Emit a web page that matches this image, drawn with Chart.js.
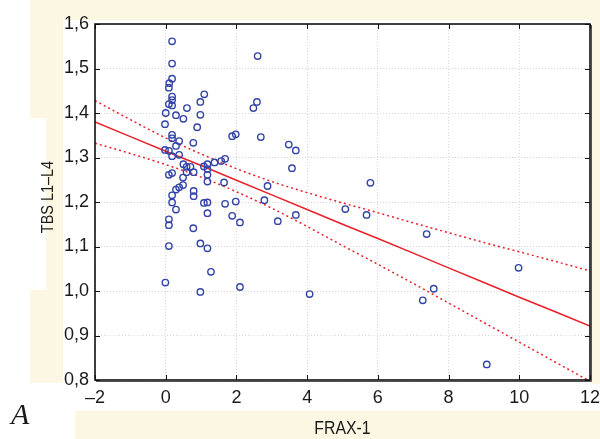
<!DOCTYPE html>
<html>
<head>
<meta charset="utf-8">
<script src="https://cdn.jsdelivr.net/npm/chart.js@4.4.1/dist/chart.umd.min.js"></script>
<style>
  html, body { margin: 0; padding: 0; background: #ffffff; }
  #wrap { width: 600px; height: 439px; position: relative; }
</style>
</head>
<body>
<div id="wrap"><canvas id="scatterChart" width="600" height="439"></canvas></div>
<script>
// FRAX-1 vs TBS L1-L4
const fraxValues = [
  0.18, 0.18, 0.18, 0.10, 0.09, 0.18, 0.18, 0.09, 0.18, 1.09,
  0.98, 0.60, 0.00, 0.29, 0.50, 0.98, -0.02, 0.89, 0.18, 0.18,
  0.38, 0.78, 0.29, -0.02, 0.09, 0.18, 0.38, 0.50, 0.59, 0.70,
  1.08, 1.18, 1.38, 1.57, 1.68, 1.18, 0.59, 1.18, 0.79, 0.18,
  0.09, 0.49, 1.18, 1.65, 0.49, 0.38, 0.29, 0.79, 0.79, 0.18,
  0.18, 1.08, 1.18, 1.68, 0.29, 1.18, 0.09, 0.09, 0.78, 0.09,
  0.98, 1.18, 1.28, -0.01, 0.98, 2.48, 2.58, 1.88, 1.98, 2.69,
  2.88, 1.98, 2.79, 1.88, 2.10, 3.17, 2.10, 2.60, 3.48, 3.68,
  3.57, 5.79, 5.08, 5.68, 3.68, 4.07, 7.38, 9.98, 7.58, 7.27,
  9.08
];
const tbsValues = [
  1.561, 1.511, 1.477, 1.467, 1.457, 1.437, 1.429, 1.420, 1.417, 1.442,
  1.425, 1.411, 1.400, 1.395, 1.387, 1.396, 1.375, 1.368, 1.351, 1.343,
  1.337, 1.333, 1.326, 1.317, 1.315, 1.303, 1.306, 1.285, 1.279, 1.279,
  1.280, 1.285, 1.289, 1.292, 1.297, 1.274, 1.267, 1.261, 1.267, 1.265,
  1.261, 1.255, 1.246, 1.244, 1.238, 1.233, 1.228, 1.225, 1.213, 1.215,
  1.199, 1.198, 1.199, 1.196, 1.183, 1.175, 1.161, 1.148, 1.141, 1.101,
  1.107, 1.096, 1.043, 1.019, 0.998, 1.411, 1.425, 1.348, 1.352, 1.346,
  1.236, 1.201, 1.204, 1.169, 1.154, 1.157, 1.009, 1.528, 1.329, 1.316,
  1.276, 1.243, 1.184, 1.171, 1.171, 0.993, 1.128, 1.052, 1.005, 0.979,
  0.835
];

// regression line and 95% band, read at whole x values
const fitX = [-2, -1, 0, 1, 2, 3, 4, 5, 6, 7, 8, 9, 10, 11, 12];
const fitY = [1.380, 1.347, 1.314, 1.282, 1.249, 1.216, 1.183, 1.150, 1.118, 1.085, 1.052, 1.019, 0.986, 0.954, 0.921];
const upperY = [1.428, 1.385, 1.344, 1.308, 1.275, 1.246, 1.221, 1.198, 1.176, 1.153, 1.131, 1.109, 1.088, 1.067, 1.045];
const lowerY = [1.332, 1.309, 1.284, 1.256, 1.223, 1.186, 1.145, 1.102, 1.060, 1.017, 0.973, 0.929, 0.885, 0.841, 0.797];

const xTicks = [-2, 0, 2, 4, 6, 8, 10, 12];
const yTicks = [0.8, 0.9, 1.0, 1.1, 1.2, 1.3, 1.4, 1.5, 1.6];

const FONT = "'Liberation Sans Narrow', 'Liberation Sans', Arial, sans-serif";
const CREAM = "#fcf7e3";

const pts = (xs, ys) => xs.map((x, i) => ({ x: x, y: ys[i] }));

// cream scan background, frame, inward ticks and titles
const decor = {
  id: "decor",
  beforeDraw(chart) {
    const c = chart.ctx;
    const a = chart.chartArea;
    c.save();
    c.fillStyle = "#ffffff";
    c.fillRect(0, 0, chart.width, chart.height);
    c.fillStyle = CREAM;
    c.fillRect(30, 0, chart.width - 30, a.top - 4);
    c.fillRect(a.right + 2, 0, chart.width - a.right - 2, a.bottom + 4);
    c.fillRect(30, 10, 33, 108);
    c.fillRect(46, 118, 17, 172);
    c.fillRect(30, 290, 33, 93);
    c.fillRect(75, 411, 525, 28);
    c.fillStyle = "#ffffff";
    c.fillRect(a.left, a.top, a.right - a.left, a.bottom - a.top);
    c.restore();
  },
  afterDraw(chart) {
    const c = chart.ctx;
    const a = chart.chartArea;
    const xs = chart.scales.x;
    const ys = chart.scales.y;
    c.save();
    c.strokeStyle = "#111111";
    c.lineWidth = 1;
    c.beginPath();
    xTicks.forEach((v) => {
      const px = Math.round(xs.getPixelForValue(v)) + 0.5;
      c.moveTo(px, a.bottom); c.lineTo(px, a.bottom - 5);
      c.moveTo(px, a.top); c.lineTo(px, a.top + 5);
    });
    yTicks.forEach((v) => {
      const py = Math.round(ys.getPixelForValue(v)) + 0.5;
      c.moveTo(a.left, py); c.lineTo(a.left + 5, py);
      c.moveTo(a.right, py); c.lineTo(a.right - 5, py);
    });
    c.stroke();
    c.lineWidth = 1.6;
    c.strokeRect(a.left, a.top, a.right - a.left, a.bottom - a.top);
    c.strokeStyle = "#555555";
    c.lineWidth = 1;
    c.beginPath();
    c.moveTo(a.right + 1.5, a.top + 1); c.lineTo(a.right + 1.5, a.bottom + 1.5);
    c.lineTo(a.left + 1, a.bottom + 1.5);
    c.stroke();

    c.fillStyle = "#1a1a1a";
    c.textAlign = "center";
    c.textBaseline = "middle";
    c.font = "18px " + FONT;
    c.save();
    c.translate((a.left + a.right) / 2, 429);
    c.scale(0.88, 1);
    c.fillText("FRAX-1", 0, 0);
    c.restore();
    c.save();
    c.translate(48, 197);
    c.rotate(-Math.PI / 2);
    c.scale(0.85, 1);
    c.font = "17px " + FONT;
    c.fillText("TBS L1\u2013L4", 0, 0);
    c.restore();
    c.font = "italic 30px 'Liberation Serif', 'Times New Roman', serif";
    c.textAlign = "left";
    c.textBaseline = "alphabetic";
    c.fillText("A", 11, 424);
    c.restore();
  },
};

new Chart(document.getElementById("scatterChart"), {
  type: "scatter",
  data: {
    datasets: [
      {
        label: "TBS",
        data: pts(fraxValues, tbsValues),
        showLine: false,
        pointStyle: "circle",
        pointRadius: 3.2,
        pointBorderWidth: 1.4,
        pointBackgroundColor: "rgba(0,0,0,0)",
        pointBorderColor: "#3244a6",
        order: 1,
      },
      {
        label: "fit",
        data: pts(fitX, fitY),
        showLine: true,
        pointRadius: 0,
        borderColor: "#e8202a",
        borderWidth: 1.5,
        order: 2,
      },
      {
        label: "upper",
        data: pts(fitX, upperY),
        showLine: true,
        pointRadius: 0,
        borderColor: "#e8202a",
        borderWidth: 1.5,
        borderDash: [2, 3],
        cubicInterpolationMode: "monotone",
        order: 3,
      },
      {
        label: "lower",
        data: pts(fitX, lowerY),
        showLine: true,
        pointRadius: 0,
        borderColor: "#e8202a",
        borderWidth: 1.5,
        borderDash: [2, 3],
        cubicInterpolationMode: "monotone",
        order: 4,
      },
    ],
  },
  options: {
    responsive: false,
    animation: false,
    layout: { padding: { top: 24, right: 10, left: 0, bottom: 0 } },
    plugins: { legend: { display: false }, tooltip: { enabled: false } },
    scales: {
      x: {
        type: "linear",
        min: -2,
        max: 12,
        afterFit: (s) => { s.height = 59; s.paddingRight = 0; },
        afterBuildTicks: (s) => { s.ticks = xTicks.map((v) => ({ value: v })); },
        grid: { color: "#d6d6d6", drawTicks: true, tickLength: 7, tickColor: "rgba(0,0,0,0)", lineWidth: 1 },
        border: { display: false, dash: [1, 2] },
        ticks: {
          padding: 0,
          color: "#1a1a1a",
          font: { family: FONT, size: 18 },
          callback: (v) => String(v).replace("-", "\u2013"),
        },
      },
      y: {
        type: "linear",
        min: 0.8,
        max: 1.6,
        afterFit: (s) => { s.width = 95; s.paddingTop = 0; s.paddingBottom = 0; },
        afterBuildTicks: (s) => { s.ticks = yTicks.map((v) => ({ value: v })); },
        grid: { color: "#d6d6d6", drawTicks: true, tickLength: 6, tickColor: "rgba(0,0,0,0)", lineWidth: 1 },
        border: { display: false, dash: [1, 2] },
        ticks: {
          padding: 0,
          color: "#1a1a1a",
          font: { family: FONT, size: 18 },
          callback: (v) => Number(v).toFixed(1).replace(".", ","),
        },
      },
    },
  },
  plugins: [decor],
});
</script>
</body>
</html>
